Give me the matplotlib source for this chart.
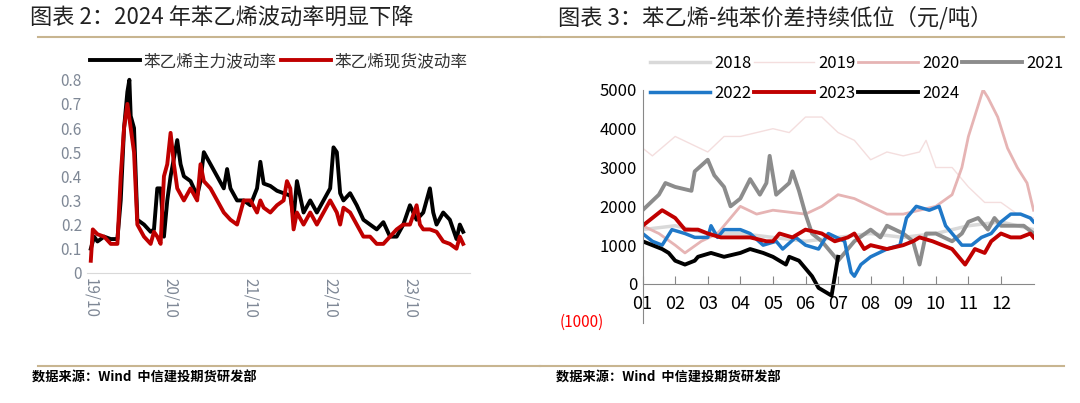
import numpy as np
import matplotlib
matplotlib.use("Agg")
import matplotlib.pyplot as plt
from matplotlib.lines import Line2D

plt.rcParams['font.family'] = ['Noto Sans CJK SC', 'DejaVu Sans']

# ---- left chart data (x = months since 2019-10) ----
main_x = [0,0.5,1,2,3,4,4.5,5,5.5,5.8,6,6.5,7,8,9,9.5,10,10.5,11,11.5,12,13,13.5,14,15,16,16.5,17,18,19,20,20.5,21,22,23,24,25,25.5,26,27,28,29,30,30.5,31,32,33,34,35,36,36.5,37,37.5,38,39,40,41,42,43,44,45,46,47,48,49,50,51,51.5,52,53,54,55,55.5,56]
main_y = [0.10,0.15,0.13,0.15,0.14,0.14,0.30,0.60,0.75,0.80,0.65,0.60,0.22,0.20,0.17,0.18,0.35,0.35,0.15,0.30,0.40,0.55,0.45,0.40,0.38,0.32,0.38,0.50,0.45,0.40,0.35,0.43,0.35,0.30,0.30,0.28,0.35,0.46,0.37,0.36,0.34,0.33,0.32,0.23,0.38,0.25,0.30,0.25,0.30,0.35,0.52,0.50,0.33,0.30,0.33,0.28,0.22,0.20,0.18,0.21,0.15,0.15,0.20,0.28,0.22,0.25,0.35,0.25,0.20,0.25,0.22,0.14,0.20,0.17]
spot_x = [0,0.3,1,2,3,4,4.5,5,5.5,6,6.5,7,8,9,9.5,10,10.5,11,11.5,12,12.5,13,14,15,16,16.5,17,18,19,20,21,22,23,24,25,25.5,26,27,28,29,29.5,30,30.5,31,32,33,34,35,36,37,37.5,38,39,40,41,42,43,44,45,46,47,48,49,49.5,50,51,52,53,54,55,55.5,56]
spot_y = [0.05,0.18,0.16,0.15,0.12,0.12,0.40,0.60,0.70,0.60,0.50,0.20,0.15,0.12,0.17,0.15,0.12,0.40,0.45,0.58,0.45,0.35,0.30,0.35,0.30,0.45,0.38,0.35,0.30,0.25,0.22,0.20,0.30,0.30,0.25,0.30,0.27,0.25,0.28,0.30,0.38,0.35,0.18,0.25,0.20,0.25,0.20,0.25,0.30,0.25,0.20,0.27,0.25,0.20,0.15,0.15,0.12,0.12,0.15,0.18,0.20,0.20,0.28,0.20,0.18,0.18,0.17,0.13,0.12,0.10,0.15,0.12]
left_ticks = [0, 12, 24, 36, 48]
left_ticklabels = ['19/10', '20/10', '21/10', '22/10', '23/10']

# ---- right chart data (x = month position, 0 = Jan start) ----
s2018_x = [0,1,2,3,4,5,6,7,8,9,10,11,12]
s2018_y = [1400,1500,1300,1300,1200,1100,1200,1300,1200,1300,1500,1600,1400]
s2019_x = [0,0.3,1,1.5,2,2.5,3,3.5,4,4.5,5,5.5,6,6.5,7,7.5,8,8.5,8.7,9,9.5,10,10.5,11,11.5,12]
s2019_y = [3500,3300,3800,3600,3400,3800,3800,3900,4000,3900,4300,4300,3900,3700,3200,3400,3300,3400,3700,3000,3000,2500,2100,2100,1800,1700]
s2020_x = [0,0.5,1,1.3,1.8,2.3,2.7,3.0,3.5,4,5,5.5,6,6.5,7,7.5,8,8.5,9,9.5,9.8,10.0,10.3,10.45,10.6,10.9,11.2,11.5,11.8,12]
s2020_y = [1500,1300,1000,800,1100,1300,1700,2000,1800,1900,1800,2000,2300,2200,2000,1800,1800,1900,2000,2300,3000,3800,4600,5000,4800,4300,3500,3000,2600,1900]
s2021_x = [0,0.5,0.7,1,1.5,1.6,2.0,2.2,2.5,2.7,3.0,3.3,3.6,3.8,3.9,4.1,4.5,4.6,4.8,5.0,5.2,5.5,5.8,6.0,6.5,7,7.3,7.5,8,8.3,8.5,8.7,9,9.5,9.8,10.0,10.3,10.6,10.8,11,11.3,11.7,12]
s2021_y = [1900,2300,2600,2500,2400,2900,3200,2800,2500,2000,2200,2700,2300,2600,3300,2300,2600,2900,2400,1800,1300,1100,800,600,1100,1400,1200,1500,1300,1100,500,1300,1300,1100,1300,1600,1700,1400,1700,1500,1500,1500,1300]
s2022_x = [0,0.3,0.6,0.9,1.3,1.6,2,2.1,2.3,2.5,3,3.3,3.7,4.1,4.3,4.7,5.0,5.4,5.7,6.2,6.4,6.5,6.7,7,7.5,7.9,8.1,8.4,8.8,9.1,9.3,9.6,9.8,10.1,10.4,10.7,11,11.3,11.6,11.9,12]
s2022_y = [1300,1100,1000,1400,1300,1200,1200,1500,1200,1400,1400,1300,1000,1100,900,1200,1000,900,1300,1100,300,200,500,700,900,1000,1700,2000,1900,2000,1500,1200,1000,1000,1200,1300,1600,1800,1800,1700,1600]
s2023_x = [0,0.3,0.6,1,1.3,1.7,2,2.4,2.9,3.3,3.8,4,4.2,4.6,5.0,5.5,5.9,6.3,6.5,6.8,7,7.5,8,8.3,8.5,8.9,9.2,9.5,9.7,9.9,10.2,10.5,10.7,11,11.3,11.6,11.9,12]
s2023_y = [1500,1700,1900,1700,1400,1400,1300,1200,1200,1200,1100,1100,1300,1200,1400,1300,1100,1200,1300,900,1000,900,1000,1100,1200,1100,1000,900,700,500,900,800,1100,1300,1200,1200,1300,1200]
s2024_x = [0,0.3,0.6,0.8,1,1.3,1.6,1.7,2.1,2.5,3,3.3,3.7,4,4.2,4.4,4.5,4.8,5,5.2,5.4,5.6,5.8,5.9,6.0]
s2024_y = [1100,1000,900,800,600,500,600,700,800,700,800,900,800,700,600,500,700,600,400,200,-100,-200,-300,200,700]
month_labels = ['01','02','03','04','05','06','07','08','09','10','11','12']

fig = plt.figure(figsize=(10.8, 4.03), dpi=100)
brown = '#c8b590'

fig.text(0.028, 0.955, '图表 2：2024 年苯乙烯波动率明显下降', fontsize=16, va='center', color='#222222')
fig.text(0.517, 0.955, '图表 3：苯乙烯-纯苯价差持续低位（元/吨）', fontsize=16, va='center', color='#222222')
for x0, x1 in [(0.035, 0.5), (0.5, 0.985)]:
    fig.add_artist(Line2D([x0, x1], [0.908, 0.908], color=brown, lw=1.5))
    fig.add_artist(Line2D([x0, x1], [0.093, 0.093], color=brown, lw=1.5))
fig.text(0.03, 0.063, '数据来源：Wind  中信建投期货研发部', fontsize=9.5, fontweight='bold', style='italic', va='center')
fig.text(0.515, 0.063, '数据来源：Wind  中信建投期货研发部', fontsize=9.5, fontweight='bold', style='italic', va='center')

# ---- left ----
ax = fig.add_axes([0.081, 0.323, 0.354, 0.491])
ax.plot(main_x, main_y, color='black', lw=2.8, label='苯乙烯主力波动率')
ax.plot(spot_x, spot_y, color='#c00000', lw=2.8, label='苯乙烯现货波动率')
ax.set_xlim(-0.5, 57)
ax.set_ylim(0, 0.82)
ax.set_yticks(np.arange(0, 0.81, 0.1))
ax.set_yticklabels(['0'] + [f'{v:.1f}' for v in np.arange(0.1, 0.81, 0.1)], color='#7f8896', fontsize=11)
ax.set_xticks(left_ticks)
ax.set_xticklabels(left_ticklabels, rotation=-90, color='#7f8896', fontsize=11)
for s in ['top', 'right', 'left']:
    ax.spines[s].set_visible(False)
ax.spines['bottom'].set_color('#d9d9d9')
ax.tick_params(length=0, pad=4)
ax.legend(loc='lower center', bbox_to_anchor=(0.5, 0.95), ncol=2, frameon=False, fontsize=12,
          handlelength=3.0, columnspacing=0.3, handletextpad=0.2, labelcolor='#333333')

# ---- right ----
ax2 = fig.add_axes([0.595, 0.199, 0.362, 0.578])
h18, = ax2.plot(s2018_x, s2018_y, color='#d9d9d9', lw=2.5, label='2018')
h19, = ax2.plot(s2019_x, s2019_y, color='#f4dede', lw=1.0, label='2019')
h20, = ax2.plot(s2020_x, s2020_y, color='#e6b4b4', lw=2.0, label='2020')
h21, = ax2.plot(s2021_x, s2021_y, color='#8c8c8c', lw=2.8, label='2021')
h22, = ax2.plot(s2022_x, s2022_y, color='#1f78c8', lw=2.5, label='2022')
h23, = ax2.plot(s2023_x, s2023_y, color='#c00000', lw=2.8, label='2023')
h24, = ax2.plot(s2024_x, s2024_y, color='black', lw=2.8, label='2024')
ax2.set_xlim(0, 12)
ax2.set_ylim(-1000, 5000)
ax2.set_yticks(range(0, 5001, 1000))
ax2.set_yticklabels([str(v) for v in range(0, 5001, 1000)], fontsize=12)
ax2.text(-0.1, -1000, '(1000)', color='red', fontsize=11, ha='right', va='center',
         transform=ax2.get_yaxis_transform())
ax2.spines['bottom'].set_position(('data', 0))
ax2.spines['top'].set_visible(False)
ax2.spines['right'].set_visible(False)
ax2.spines['left'].set_color('#888888')
ax2.spines['bottom'].set_color('#888888')
ax2.set_xticks(range(0, 12))
ax2.set_xticklabels(month_labels, fontsize=13)
ax2.tick_params(axis='x', direction='in', length=6, color='#888888', pad=8)
ax2.tick_params(axis='y', direction='in', length=0, pad=4)
hs = [h18, h22, h19, h23, h20, h24, h21]
ax2.legend(hs, [h.get_label() for h in hs], loc='lower left', bbox_to_anchor=(-0.02, 0.885), ncol=4,
           frameon=False, fontsize=12, handlelength=3.6, columnspacing=0.1, handletextpad=0.3,
           labelspacing=0.75)

fig.savefig('out.png', dpi=100)
